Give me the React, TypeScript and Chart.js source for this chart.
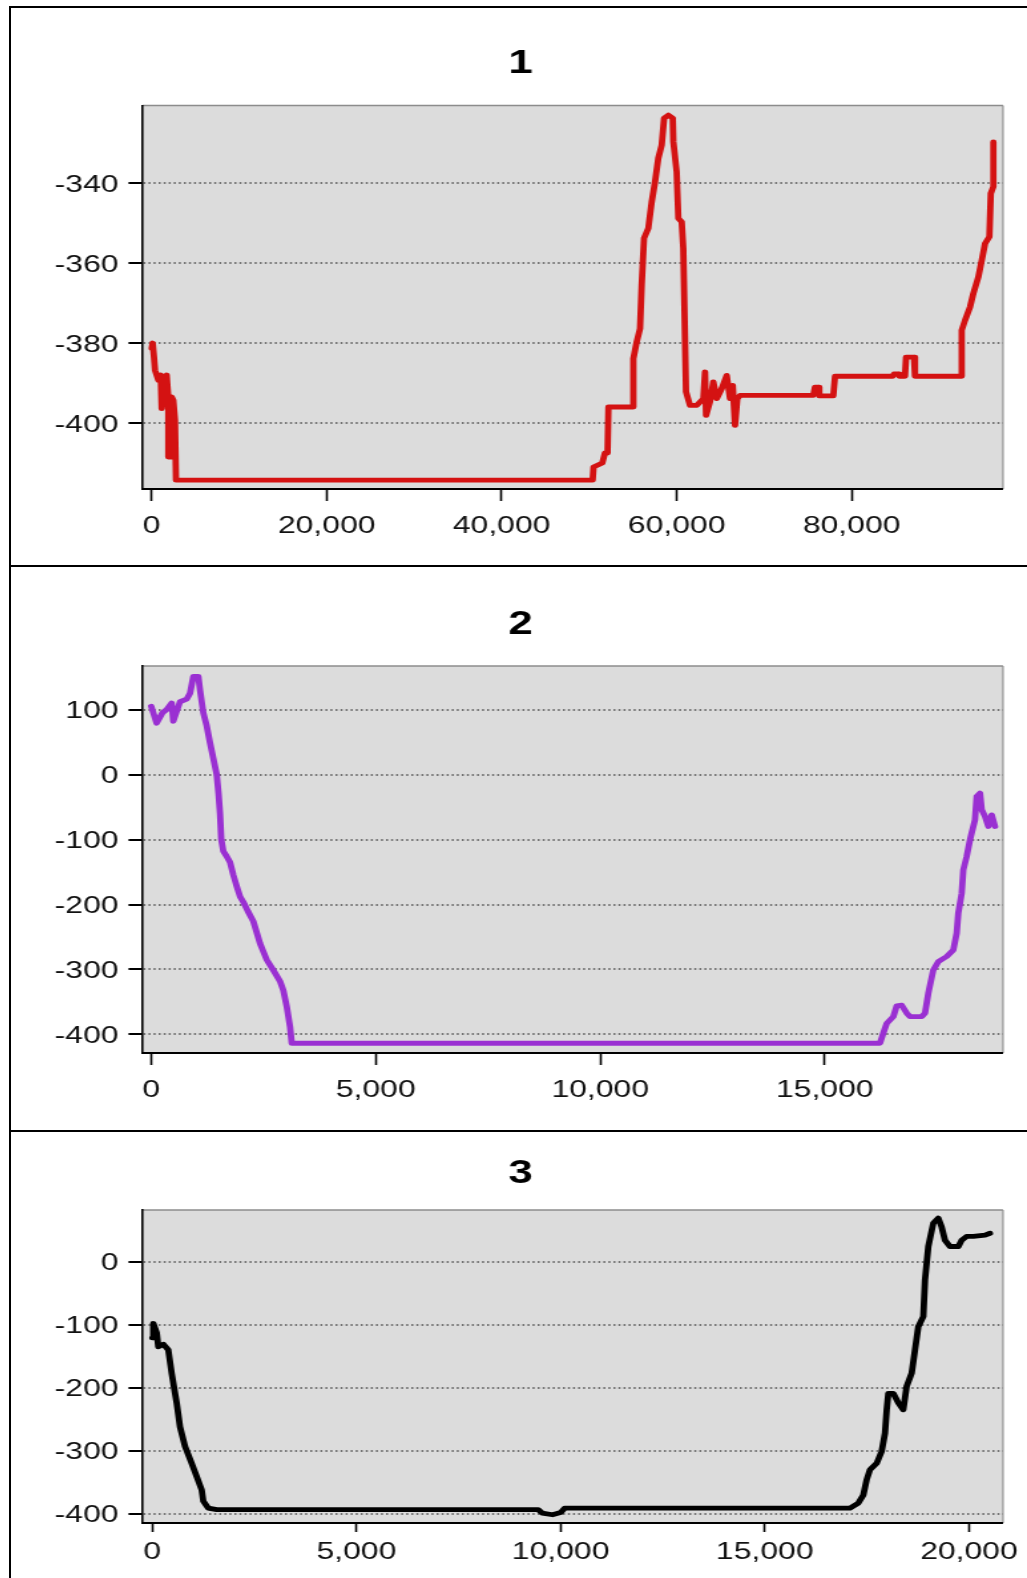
import React, { useEffect, useRef } from 'react';
import { Chart, registerables } from 'chart.js';

Chart.register(...registerables);

// ---------- data (x = step index, y = value) ----------
const run1Points: [number, number][] = [
  [0, -381.4], [110, -380], [260, -383.5], [380, -386.8], [760, -389.3], [1030, -388], [1140, -396.4],
  [1520, -388.5], [1710, -388], [1900, -393.5], [1900, -408.5], [2170, -408.5], [2290, -393.5],
  [2470, -394.3], [2660, -399.3], [2780, -414.3], [50400, -414.3], [50500, -411], [51500, -410],
  [51800, -407.5], [52100, -407.5], [52200, -396], [55050, -396], [55050, -383.9], [55430, -379.7],
  [55810, -376.4], [56000, -365.5], [56270, -353.8], [56760, -351.3], [57150, -344.7], [57530, -339.7],
  [57900, -333.8], [58290, -330.5], [58560, -323.8], [59050, -323], [59550, -323.8], [59620, -329.7],
  [60000, -337.2], [60190, -348.8], [60580, -349.7], [60760, -356.3], [61070, -392.2], [61530, -395.6],
  [62290, -395.6], [63050, -393.9], [63240, -387.2], [63360, -398.1], [63810, -394.7], [64190, -389.7],
  [64580, -393.9], [65150, -391.4], [65720, -388.1], [66100, -393.9], [66410, -390.6], [66670, -400.6],
  [66930, -393.9], [67240, -393.1], [75620, -393.1], [75810, -391], [76190, -391], [76300, -393.2],
  [77900, -393.2], [78100, -388.3], [84700, -388.3], [84850, -387.7], [85350, -387.7], [85450, -388.3],
  [86100, -388.3], [86220, -383.5], [87130, -383.5], [87240, -388.3], [92580, -388.3], [92580, -376.8],
  [92960, -374.3], [93530, -371], [93910, -367.6], [94480, -363.5], [94870, -359.3], [95250, -355.1],
  [95740, -353.4], [95900, -342.6], [96200, -340.9], [96200, -329.7],
];

const run2Points: [number, number][] = [
  [0, 105], [120, 79], [250, 95], [345, 100], [456, 110], [492, 82], [641, 112], [790, 116], [864, 125],
  [938, 151], [1049, 151], [1087, 130], [1160, 95], [1236, 75], [1309, 49], [1383, 25], [1459, 0],
  [1500, -30], [1532, -60], [1560, -100], [1606, -118], [1680, -126], [1755, -135], [1830, -155],
  [1904, -172], [1980, -188], [2051, -196], [2150, -210], [2274, -226], [2423, -260], [2572, -285],
  [2719, -301], [2868, -318], [2942, -332], [3018, -357], [3091, -388], [3129, -413.5], [16230, -413.5],
  [16304, -398], [16380, -383], [16527, -372.6], [16602, -356], [16714, -355], [16825, -367],
  [16899, -372.6], [17159, -372.6], [17233, -367], [17306, -336.5], [17418, -300.7], [17529, -288],
  [17715, -280], [17863, -270], [17938, -244], [17974, -213], [18050, -182.6], [18086, -146.7],
  [18161, -126], [18235, -100.5], [18272, -90], [18346, -69.7], [18384, -33.8], [18458, -28.6],
  [18495, -54], [18569, -64.6], [18643, -80], [18718, -62], [18792, -80],
];

const run3Points: [number, number][] = [
  [0, -121], [24, -98], [108, -113], [147, -135], [269, -131], [392, -140], [474, -177], [597, -224],
  [678, -262], [801, -293], [964, -320], [1087, -341], [1209, -362], [1249, -380], [1371, -391],
  [1577, -393.5], [9450, -393.5], [9550, -399], [9800, -401.5], [10000, -398], [10100, -391],
  [17087, -391], [17290, -383], [17413, -370], [17495, -346], [17576, -330], [17740, -320],
  [17862, -301], [17944, -272], [17985, -235], [18025, -209], [18147, -209], [18270, -224],
  [18392, -235], [18474, -198], [18597, -177], [18678, -140], [18760, -103], [18882, -87],
  [18923, -29], [19004, 24], [19127, 61], [19249, 69], [19331, 55], [19413, 34], [19535, 24],
  [19739, 24], [19822, 34], [19944, 40], [20107, 40], [20393, 42], [20515, 45],
];

// ---------- tick labels ----------
const run1XTicks = [0, 20000, 40000, 60000, 80000];
const run1YTicks = [-400, -380, -360, -340];
const run2XTicks = [0, 5000, 10000, 15000];
const run2YTicks = [-400, -300, -200, -100, 0, 100];
const run3XTicks = [0, 5000, 10000, 15000, 20000];
const run3YTicks = [-400, -300, -200, -100, 0];

const panelTitles = ['1', '2', '3'];

// ---------- layout / style specs ----------
type PanelSpec = {
  title: string;
  points: [number, number][];
  color: string;
  xMin: number; xMax: number; yMin: number; yMax: number;
  xTicks: number[]; yTicks: number[];
  top: number; height: number;
  chartTop: number; chartBottom: number; titleCenter: number;
  xTickLen: number; xPad: number;
};

// the picture is horizontally stretched: draw on a narrower canvas and stretch it with CSS
const PAGE_W = 1016;
const CANVAS_W = 764;
const K = PAGE_W / CANVAS_W;
const CANVAS_LEFT = 11;
const chartLeftC = 131.5 / K;
const chartRightC = 992 / K;
const titleCenterC = 509.6 / K;
const PAD_R = CANVAS_W - chartRightC;
const PAD_L = 2 * titleCenterC - CANVAS_W + PAD_R;
const Y_AXIS_W = chartLeftC - PAD_L;
const TITLE_SIZE = 33;
const TITLE_LH = 1.2;
const TICK_FONT = { family: '"Liberation Sans", Arial, sans-serif', size: 24 };

const panels: PanelSpec[] = [
  {
    title: panelTitles[0], points: run1Points, color: '#d41212',
    xMin: -1050, xMax: 97300, yMin: -416.5, yMax: -320.6,
    xTicks: run1XTicks, yTicks: run1YTicks,
    top: 8, height: 557, chartTop: 97.5, chartBottom: 481, titleCenter: 56.3,
    xTickLen: 12, xPad: 11.3,
  },
  {
    title: panelTitles[1], points: run2Points, color: '#9a30d2',
    xMin: -194, xMax: 18970, yMin: -428.5, yMax: 167,
    xTicks: run2XTicks, yTicks: run2YTicks,
    top: 567, height: 563, chartTop: 99, chartBottom: 486, titleCenter: 58.2,
    xTickLen: 12, xPad: 10.7,
  },
  {
    title: panelTitles[2], points: run3Points, color: '#000000',
    xMin: -240, xMax: 20834, yMin: -414.6, yMax: 81.9,
    xTicks: run3XTicks, yTicks: run3YTicks,
    top: 1132, height: 446, chartTop: 78, chartBottom: 391, titleCenter: 42,
    xTickLen: 9, xPad: 5.7,
  },
];

const plotBackground = {
  id: 'plotBackground',
  beforeDraw(chart: any) {
    const { ctx, chartArea: a } = chart;
    ctx.save();
    ctx.fillStyle = '#dcdcdc';
    ctx.fillRect(a.left, a.top, a.right - a.left, a.bottom - a.top);
    ctx.strokeStyle = '#8c8c8c';
    ctx.lineWidth = 1.5;
    ctx.beginPath();
    ctx.moveTo(a.left, a.top);
    ctx.lineTo(a.right, a.top);
    ctx.stroke();
    ctx.lineWidth = 1.5 / K;
    ctx.beginPath();
    ctx.moveTo(a.right, a.top);
    ctx.lineTo(a.right, a.bottom);
    ctx.stroke();
    ctx.restore();
  },
};

function Panel({ spec }: { spec: PanelSpec }) {
  const ref = useRef<HTMLCanvasElement | null>(null);
  useEffect(() => {
    if (!ref.current) return;
    const titleTop = spec.titleCenter - (TITLE_SIZE * TITLE_LH) / 2;
    const titleBottom = spec.chartTop - titleTop - TITLE_SIZE * TITLE_LH;
    const xAxisHeight = spec.height - spec.chartBottom;
    const chart = new Chart(ref.current, {
      type: 'line',
      data: {
        datasets: [
          {
            data: spec.points.map(([x, y]) => ({ x, y })),
            borderColor: spec.color,
            borderWidth: 4.8,
            pointRadius: 0,
            tension: 0,
            fill: false,
            borderJoinStyle: 'round',
            borderCapStyle: 'round',
          },
        ],
      },
      options: {
        responsive: false,
        animation: false,
        devicePixelRatio: 1,
        events: [],
        layout: { padding: { left: PAD_L, right: PAD_R, top: 0, bottom: 0 } },
        plugins: {
          legend: { display: false },
          tooltip: { enabled: false },
          title: {
            display: true,
            text: spec.title,
            color: '#000',
            font: { family: '"Liberation Sans", Arial, sans-serif', size: TITLE_SIZE, weight: 'bold', lineHeight: TITLE_LH },
            padding: { top: titleTop, bottom: titleBottom },
          },
        },
        scales: {
          x: {
            type: 'linear',
            min: spec.xMin,
            max: spec.xMax,
            afterFit: (s: any) => { s.height = xAxisHeight; },
            afterBuildTicks: (s: any) => { s.ticks = spec.xTicks.map((v) => ({ value: v })); },
            grid: { drawOnChartArea: false, drawTicks: true, tickLength: spec.xTickLen, tickColor: '#000', tickWidth: 1.6 },
            border: { display: true, color: '#000', width: 2 },
            ticks: {
              autoSkip: false, maxRotation: 0, padding: spec.xPad, color: '#111', font: TICK_FONT,
              callback: (v: any) => Number(v).toLocaleString('en-US'),
            },
          },
          y: {
            type: 'linear',
            min: spec.yMin,
            max: spec.yMax,
            afterFit: (s: any) => { s.width = Y_AXIS_W; },
            afterBuildTicks: (s: any) => { s.ticks = spec.yTicks.map((v) => ({ value: v })); },
            grid: { color: '#727272', lineWidth: 2, tickLength: 14 / K, tickColor: '#000', tickWidth: 2, tickBorderDash: [] },
            border: { display: true, color: '#000', width: 1.6, dash: [1.5, 2.3] },
            ticks: {
              padding: 10 / K, labelOffset: 2, color: '#111', font: TICK_FONT,
              callback: (v: any) => String(v),
            },
          },
        },
      },
      plugins: [plotBackground],
    } as any);
    return () => chart.destroy();
  }, [spec]);
  return (
    <canvas
      ref={ref}
      width={CANVAS_W}
      height={spec.height}
      style={{ position: 'absolute', left: CANVAS_LEFT, top: spec.top, width: PAGE_W, height: spec.height }}
    />
  );
}

export default function App() {
  const frame = { position: 'absolute' as const, left: 9, width: 1040, border: '2px solid #000', boxSizing: 'border-box' as const };
  return (
    <div style={{ position: 'fixed', left: 0, top: 0, width: 1027, height: 1578, overflow: 'hidden', background: '#fff' }}>
      <div style={{ ...frame, top: 6, height: 561 }} />
      <div style={{ ...frame, top: 565, height: 567 }} />
      <div style={{ ...frame, top: 1130, height: 520 }} />
      {panels.map((p, i) => (
        <Panel key={i} spec={p} />
      ))}
    </div>
  );
}
